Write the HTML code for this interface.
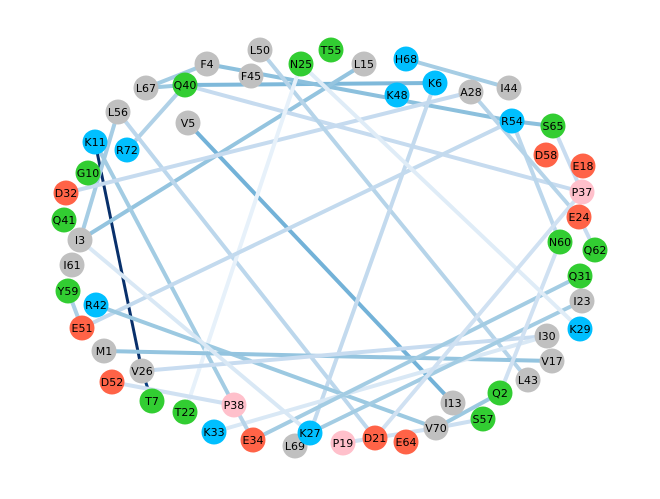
<!DOCTYPE html>
<html><head><meta charset="utf-8"><style>
html,body{margin:0;padding:0;background:#fff}
svg{display:block}
text{font-family:"DejaVu Sans","Liberation Sans",sans-serif;font-size:11px}
</style></head><body>
<svg id="g" width="660" height="499" viewBox="0 0 660 499">
<g id="edges"></g>
<g id="nodes"></g>
</svg>
<script>
const nodeNames=["F4","L50","T55","N25","L15","H68","K6","A28","I44","K48","F45","Q40","L67","L56","V5","K11","R72","G10","D32","Q41","I3","I61","Y59","R42","E51","M1","V26","D52","T7","T22","P38","K33","E34","L69","K27","P19","D21","E64","V70","I13","S57","Q2","L43","V17","I30","K29","I23","Q31","Q62","N60","E24","P37","E18","D58","S65","R54"];
const nodeLayout=[[207,64],[260,50],[331,50],[301,64],[364,64],[406,59],[435,83],[471,92],[509,88],[397,95],[251,76],[185,85],[146,88],[118,112],[188,123],[95,142],[127,150],[88,173],[66,193],[64,220],[80,240],[72,265],[68,291],[96,305],[82,328],[104,351],[142,371],[112,382],[152,401],[185,412],[234,405],[214,432],[253,440],[295,446],[310,433],[343,443],[375,438],[406,442],[436,428],[453,403],[483,419],[500,393],[528,380],[552,361],[547,336],[580,329],[582,301],[580,276],[595,250],[560,242],[579,217],[582,192],[583,166],[546,155],[553,126],[512,121]];
const edgeSource=["K11","V26","V5","Q40","L67","F4","F4","R54","H68","I3","I3","Q40","L56","K11","D32","Q40","L50","N25","K6","R54","A28","S65","E24","E51","Y59","R42","M1","V26","D52","K33","E34","K27","P19","V70","V70","Q2","N25","P37","I3","P38"];
const edgeTarget=["V26","T7","I13","K6","Q40","L67","R54","S65","I44","L15","L56","R72","D21","P38","A28","P37","L43","T22","K27","N60","E24","P37","Q62","R54","E51","V70","V17","I30","P38","I30","Q31","I23","V70","Q2","S57","N60","K29","D21","K27","E34"];
const edgeWeight=[1.0,0.95,0.48,0.45,0.38,0.36,0.42,0.42,0.35,0.4,0.35,0.32,0.28,0.36,0.25,0.25,0.3,0.08,0.26,0.28,0.3,0.24,0.24,0.26,0.33,0.38,0.4,0.24,0.2,0.15,0.36,0.36,0.2,0.38,0.22,0.2,0.12,0.2,0.15,0.3];
const stops=["#f7fbff","#deebf7","#c6dbef","#9ecae1","#6baed6","#4292c6","#2171b5","#08519c","#08306b"];
function hex(c){return [1,3,5].map(i=>parseInt(c.substr(i,2),16));}
function blues(t){t=Math.max(0,Math.min(1,t));const p=t*8,i=Math.min(7,Math.floor(p)),f=p-i;const a=hex(stops[i]),b=hex(stops[i+1]);return "rgb("+a.map((v,k)=>Math.round(v+(b[k]-v)*f)).join(",")+")";}
function colorOf(n){const c=n[0];if("KRH".includes(c))return "#00bfff";if("DE".includes(c))return "#ff6347";if(c==="P")return "#ffc0cb";if("GNQSTYC".includes(c))return "#32cd32";return "#c0c0c0";}
const NS="http://www.w3.org/2000/svg";
const pos={};nodeNames.forEach((n,i)=>pos[n]=nodeLayout[i]);
const eg=document.getElementById("edges");
for(let i=0;i<edgeSource.length;i++){
  const a=pos[edgeSource[i]],b=pos[edgeTarget[i]];
  const l=document.createElementNS(NS,"line");
  l.setAttribute("x1",a[0]);l.setAttribute("y1",a[1]);l.setAttribute("x2",b[0]);l.setAttribute("y2",b[1]);
  l.setAttribute("stroke",blues(edgeWeight[i]));
  l.setAttribute("stroke-width",edgeWeight[i]>0.9?3:4);
  
  
  eg.appendChild(l);
}
const ng=document.getElementById("nodes");
nodeNames.forEach((n,i)=>{
  const g=document.createElementNS(NS,"g");
  
  
  const c=document.createElementNS(NS,"circle");
  c.setAttribute("cx",nodeLayout[i][0]);c.setAttribute("cy",nodeLayout[i][1]);c.setAttribute("r",12.5);c.setAttribute("fill",colorOf(n));
  const t=document.createElementNS(NS,"text");
  t.setAttribute("x",nodeLayout[i][0]);t.setAttribute("y",nodeLayout[i][1]+4);t.setAttribute("text-anchor","middle");t.textContent=n;
  g.appendChild(c);g.appendChild(t);ng.appendChild(g);
});
</script>
</body></html>
